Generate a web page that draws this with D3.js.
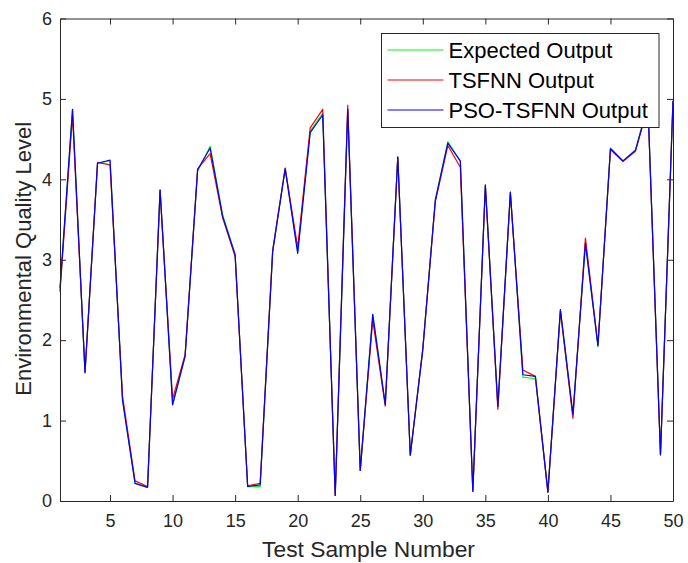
<!DOCTYPE html>
<html>
<head>
<meta charset="utf-8">
<script src="https://cdn.jsdelivr.net/npm/d3@7"></script>
<style>
  body { margin: 0; background: #fff; }
  text { font-family: "Liberation Sans", Arial, sans-serif; }
</style>
</head>
<body>
<div id="grafico"></div>
<script>
// data
const samples = d3.range(1, 51);
const expected = [2.62, 4.87, 1.59, 4.2, 4.23, 1.25, 0.22, 0.17, 3.87, 1.19,
  1.8, 4.1, 4.41, 3.56, 3.07, 0.18, 0.18, 3.1, 4.14, 3.1,
  4.6, 4.82, 0.07, 4.86, 0.38, 2.32, 1.2, 4.28, 0.57, 1.88,
  3.74, 4.47, 4.22, 0.12, 3.93, 1.17, 3.84, 1.54, 1.52, 0.11,
  2.38, 1.06, 3.22, 1.92, 4.39, 4.23, 4.37, 4.93, 0.58, 4.97];
const tsfnn = [2.6, 4.8, 1.6, 4.21, 4.18, 1.3, 0.25, 0.18, 3.86, 1.27,
  1.82, 4.13, 4.32, 3.52, 3.04, 0.19, 0.22, 3.12, 4.14, 3.15,
  4.64, 4.87, 0.07, 4.92, 0.38, 2.25, 1.18, 4.27, 0.57, 1.9,
  3.72, 4.42, 4.15, 0.12, 3.92, 1.14, 3.83, 1.63, 1.55, 0.11,
  2.36, 1.03, 3.27, 1.94, 4.37, 4.22, 4.35, 4.9, 0.57, 4.97];
const pso = [2.65, 4.87, 1.6, 4.2, 4.24, 1.25, 0.22, 0.17, 3.87, 1.2,
  1.8, 4.12, 4.39, 3.54, 3.06, 0.18, 0.2, 3.1, 4.13, 3.08,
  4.58, 4.8, 0.07, 4.87, 0.38, 2.32, 1.2, 4.28, 0.57, 1.88,
  3.74, 4.45, 4.23, 0.12, 3.93, 1.18, 3.84, 1.57, 1.55, 0.11,
  2.38, 1.08, 3.2, 1.93, 4.38, 4.23, 4.36, 4.92, 0.58, 4.98];
const xTicks = [5, 10, 15, 20, 25, 30, 35, 40, 45, 50];
const yTicks = [0, 1, 2, 3, 4, 5, 6];
const series = [
  { name: "Expected Output", values: expected, color: "#00ff00" },
  { name: "TSFNN Output", values: tsfnn, color: "#ff0000" },
  { name: "PSO-TSFNN Output", values: pso, color: "#0000ff" }
];

const margem = { superior: 18.5, inferior: 62, direita: 15, esquerda: 60 };
const W = 688, H = 563;
const largura = W - margem.esquerda - margem.direita;
const altura = H - margem.superior - margem.inferior;
const eixoCor = "#262626";

const svg = d3.select("#grafico")
  .append("svg")
    .attr("width", W)
    .attr("height", H)
  .append("g")
    .attr("transform", `translate(${margem.esquerda},${margem.superior})`);

const x = d3.scaleLinear().domain([1, 50]).range([0, largura]);
const y = d3.scaleLinear().domain([0, 6]).range([altura, 0]);

// lines
const linha = d3.line()
  .x((d, i) => x(samples[i]))
  .y(d => y(d));

svg.append("g").selectAll("path")
  .data(series)
  .join("path")
    .attr("d", d => linha(d.values))
    .attr("fill", "none")
    .attr("stroke", d => d.color)
    .attr("stroke-width", 1.2)
    .attr("stroke-linejoin", "round");

// axes (box with inward ticks)
function estilo(g) {
  g.select(".domain").attr("stroke", eixoCor);
  g.selectAll(".tick line").attr("stroke", eixoCor);
  g.selectAll(".tick text")
    .attr("fill", eixoCor)
    .attr("font-size", "18px");
}

svg.append("g")
  .attr("transform", `translate(0,${altura})`)
  .call(d3.axisBottom(x).tickValues(xTicks).tickSizeInner(-6).tickSizeOuter(0).tickPadding(13).tickFormat(d3.format("d")))
  .call(estilo);
svg.append("g")
  .call(d3.axisTop(x).tickValues(xTicks).tickSizeInner(-6).tickSizeOuter(0).tickFormat(""))
  .call(estilo);
svg.append("g")
  .call(d3.axisLeft(y).tickValues(yTicks).tickSizeInner(-6).tickSizeOuter(0).tickPadding(8).tickFormat(d3.format("d")))
  .call(estilo);
svg.append("g")
  .attr("transform", `translate(${largura},0)`)
  .call(d3.axisRight(y).tickValues(yTicks).tickSizeInner(-6).tickSizeOuter(0).tickFormat(""))
  .call(estilo);

// axis titles
svg.append("text")
  .attr("x", largura / 2 + 2)
  .attr("y", altura + 56)
  .attr("text-anchor", "middle")
  .attr("font-size", "22.8px")
  .attr("fill", eixoCor)
  .text("Test Sample Number");

svg.append("text")
  .attr("transform", `translate(${-29},${altura / 2 - 1}) rotate(-90)`)
  .attr("text-anchor", "middle")
  .attr("font-size", "22px")
  .attr("fill", eixoCor)
  .text("Environmental Quality Level");

// legend
const leg = svg.append("g")
  .attr("transform", `translate(${381.5 - margem.esquerda},${33.5 - margem.superior})`);
leg.append("rect")
  .attr("width", 277.5)
  .attr("height", 94)
  .attr("fill", "#fff")
  .attr("stroke", "#262626")
  .attr("stroke-width", 1);
const itens = leg.selectAll(".item")
  .data(series)
  .join("g")
    .attr("class", "item")
    .attr("transform", (d, i) => `translate(0,${16.5 + i * 30})`);
itens.append("line")
  .attr("x1", 6).attr("x2", 62)
  .attr("stroke", d => d.color)
  .attr("stroke-width", 1.2);
itens.append("text")
  .attr("x", 67)
  .attr("dy", "0.35em")
  .attr("font-size", "22px")
  .attr("fill", "#000")
  .text(d => d.name);
</script>
</body>
</html>
